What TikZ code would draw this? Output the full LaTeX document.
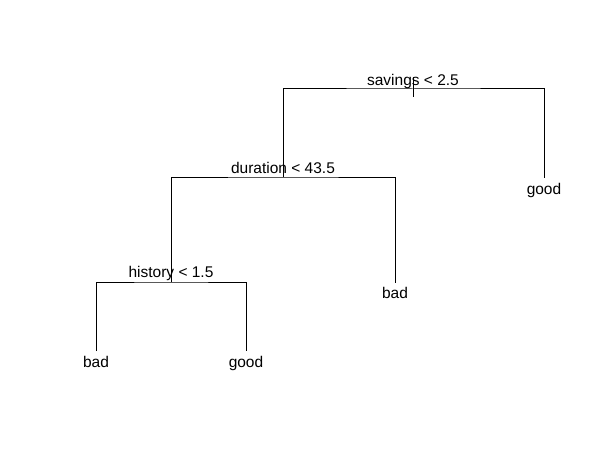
\documentclass[tikz,border=0pt]{standalone}
\usepackage{fontspec}
\setmainfont{Liberation Sans}
\usetikzlibrary{positioning}
\begin{document}
\begin{tikzpicture}[
  x=1pt, y=-1pt,
  line width=1pt,
  every node/.style = {inner sep=0pt, font=\fontsize{15.5}{18}\selectfont},
  split/.style = {text depth=0pt},
  leaf/.style = {}]
  \useasboundingbox (0,0) rectangle (603,460);
  \coordinate (savtop) at (413,77);
  \coordinate (sav) at (413,89);
  \coordinate (savstub) at (413,97);
  \coordinate (dur) at (283,177);
  \coordinate (his) at (171,282);
  \coordinate (goodR) at (544,178);
  \coordinate (badM) at (395,283);
  \coordinate (badL) at (96,351);
  \coordinate (goodL) at (246,351);
  \draw (savtop) -- (savstub);
  \draw (dur) |- (sav) -| (goodR);
  \draw (his) |- (dur) -| (badM);
  \draw (badL) |- (his) -| (goodL);
  \node[split, above=3.5pt of sav] (savlabel) {savings < 2.5};
  \node[split, above=3pt of dur] (durlabel) {duration < 43.5};
  \node[split, above=4pt of his] (hislabel) {history < 1.5};
  \node[leaf, below=4.5pt of goodR] (goodRlabel) {good};
  \node[leaf, below=4pt of badM] (badMlabel) {bad};
  \node[leaf, below=5pt of badL] (badLlabel) {bad};
  \node[leaf, below=5pt of goodL] (goodLlabel) {good};
\end{tikzpicture}
\end{document}
